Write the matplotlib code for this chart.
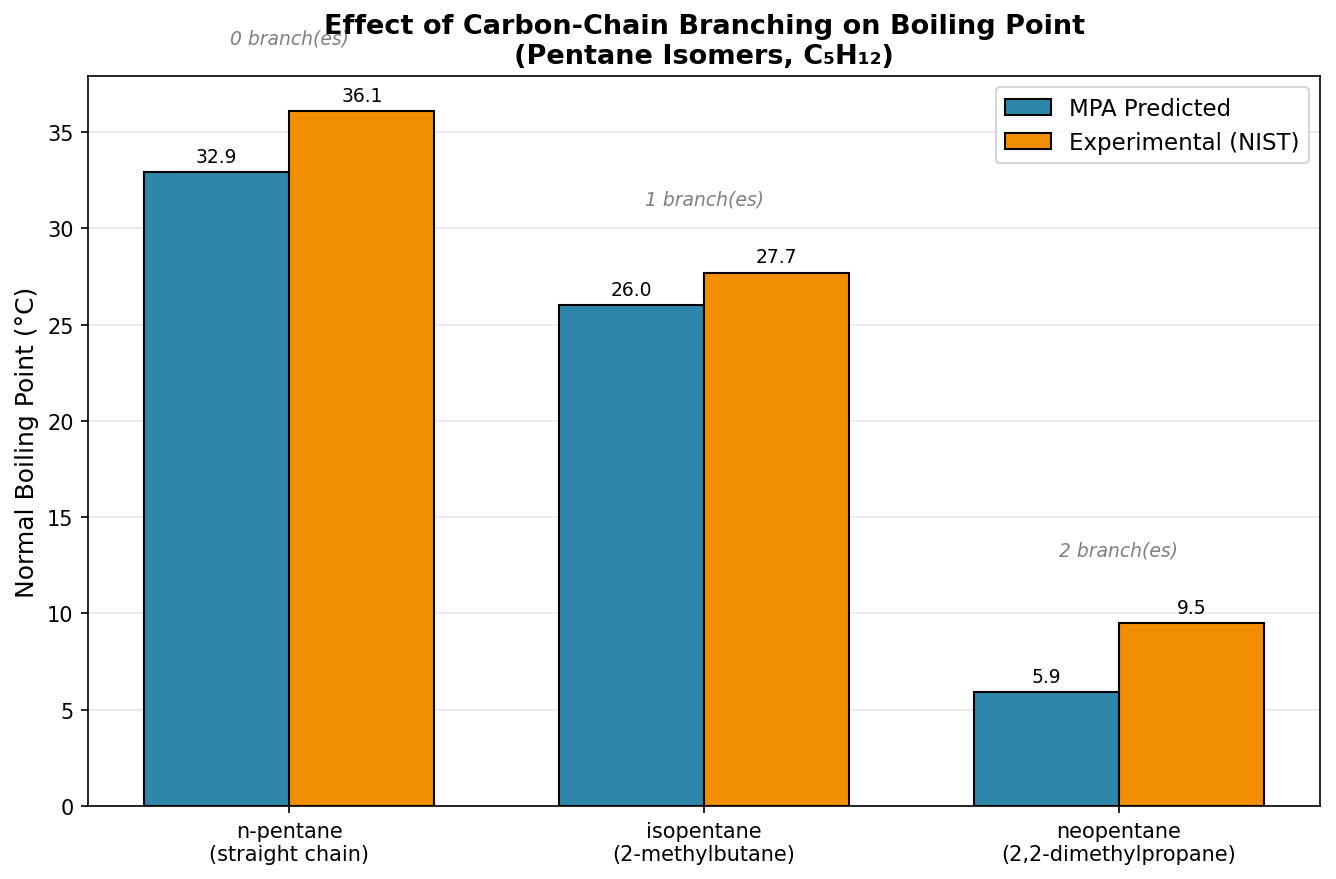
import numpy as np
import matplotlib
matplotlib.use('Agg')
from matplotlib import pyplot as plt

# Pentane isomers: predicted vs experimental boiling points
isomers = ['n-pentane\n(straight chain)', 'isopentane\n(2-methylbutane)',
           'neopentane\n(2,2-dimethylpropane)']
branches = [0, 1, 2]
mpa_pred = [32.9, 26.0, 5.9]
nist_exp = [36.1, 27.7, 9.5]

x = np.arange(len(isomers))
width = 0.35

fig, ax = plt.subplots(figsize=(1336 / 150, 880 / 150), dpi=150)

bars1 = ax.bar(x - width / 2, mpa_pred, width, label='MPA Predicted',
               color='#2E86AB', edgecolor='black', linewidth=1)
bars2 = ax.bar(x + width / 2, nist_exp, width, label='Experimental (NIST)',
               color='#F18F01', edgecolor='black', linewidth=1)

for bars in (bars1, bars2):
    for b in bars:
        h = b.get_height()
        ax.annotate(f'{h:.1f}', xy=(b.get_x() + b.get_width() / 2, h),
                    xytext=(0, 3), textcoords='offset points',
                    ha='center', va='bottom', fontsize=9)

# branch count notes above each group
for i, nb in enumerate(branches):
    top = max(mpa_pred[i], nist_exp[i])
    ax.text(x[i], top + 3.8, f'{nb} branch(es)', ha='center', va='center',
            fontsize=9, style='italic', color='gray')

ax.set_ylabel('Normal Boiling Point (°C)', fontsize=12)
ax.set_title('Effect of Carbon-Chain Branching on Boiling Point\n(Pentane Isomers, C\u2085H\u2081\u2082)',
             fontsize=13, fontweight='bold')
ax.set_xticks(x)
ax.set_xticklabels(isomers, fontsize=10)
ax.tick_params(axis='y', labelsize=10)
ax.set_ylim(0, max(nist_exp) * 1.05)
ax.legend(fontsize=11, loc='upper right')
ax.grid(axis='y', alpha=0.3)
ax.set_axisbelow(True)

plt.subplots_adjust(left=0.066, right=0.988, top=0.9125, bottom=0.083)
plt.savefig('out.png', dpi=150)
